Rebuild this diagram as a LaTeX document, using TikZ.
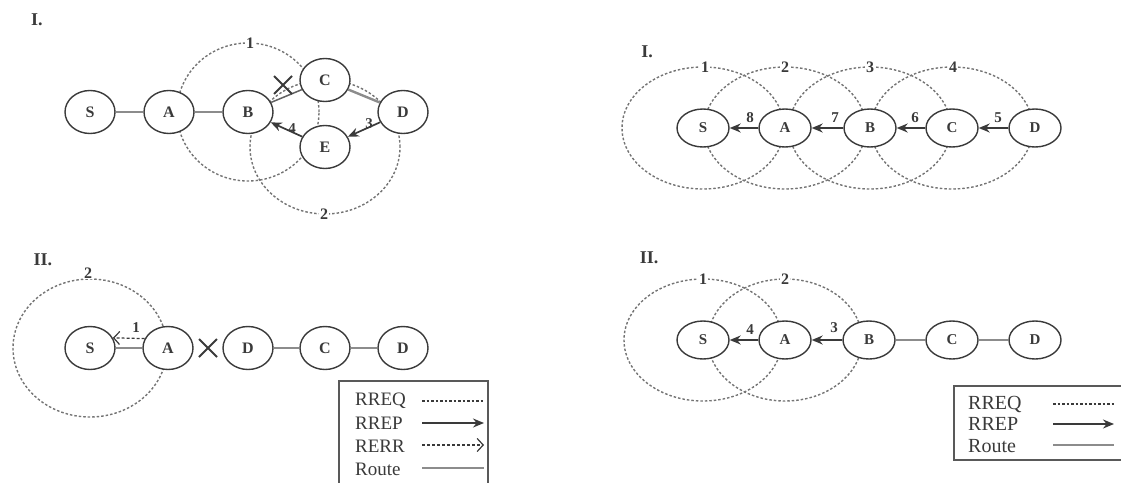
\documentclass[tikz,border=0pt]{standalone}
\usepackage{fontspec}
\setmainfont{Liberation Serif}
\usetikzlibrary{shapes.geometric,arrows.meta,backgrounds}
\definecolor{ink}{HTML}{3A3A3A}
\definecolor{reqgray}{HTML}{747474}
\definecolor{routegray}{HTML}{8C8C8C}
\begin{document}
\begin{tikzpicture}[x=1pt,y=-1pt,
  nodebig/.style={ellipse, draw=ink, line width=1.4pt, fill=white,
    minimum width=50pt, minimum height=43pt, inner sep=0pt, text=ink,
    font=\fontsize{16}{16}\selectfont\bfseries},
  nodesmall/.style={nodebig, minimum width=52pt, minimum height=38pt,
    font=\fontsize{15}{15}\selectfont\bfseries},
  rreq/.style={draw=reqgray, line width=1.4pt, dash pattern=on 2.5pt off 2pt},
  hop/.style={fill=white, inner sep=1pt, text=ink, font=\fontsize{16}{16}\selectfont\bfseries},
  seq/.style={inner sep=0pt, text=ink, font=\fontsize{15}{15}\selectfont\bfseries},
  rrep/.style={draw=ink, line width=1.7pt, -{Stealth[length=11pt,width=9pt]}},
  rerr/.style={draw=ink, line width=1.2pt, dash pattern=on 3pt off 2pt,
    -{Straight Barb[length=6pt,width=13pt,line width=1.2pt]}},
  routethick/.style={draw=routegray, line width=2.4pt},
  routethin/.style={draw=routegray, line width=1.2pt},
  broken/.style={draw=ink!80, line width=1.5pt},
  cross/.style={draw=ink, line width=1.8pt},
  panel/.style={text=ink, font=\fontsize{18}{18}\selectfont\bfseries, inner sep=0pt},
  legendbox/.style={draw=gray!70!black, line width=2.2pt, fill=white},
  legtext/.style={anchor=west, text=ink, inner sep=0pt}
]
\useasboundingbox (0,0) rectangle (1121,482);

% ---------------- Panel I (left): link B-C breaks, local repair via E
\node[panel] (p1) at (37,20) {I.};
\node[nodebig] (S1) at (90,112) {S};
\node[nodebig] (A1) at (169,112) {A};
\node[nodebig] (B1) at (248,112) {B};
\node[nodebig] (C1) at (325,80) {C};
\node[nodebig] (D1) at (403,112) {D};
\node[nodebig] (E1) at (325,147) {E};
\begin{scope}[on background layer]
  \draw[rreq] (B1.center) ellipse [x radius=71pt, y radius=69pt];
  \draw[rreq] (E1.center) ellipse [x radius=75pt, y radius=67pt];
\end{scope}
\node[hop] (r11) at (250,43) {1};
\node[hop] (r12) at (324,214) {2};
\draw[routethick] (S1) -- (A1);
\draw[routethick] (A1) -- (B1);
\draw[routethick] (C1) -- (D1);
\draw[broken] (B1) -- (C1);
\coordinate (x1) at (283,85);
\draw[cross] ([shift={(-9pt,9pt)}]x1) -- ([shift={(9pt,-9pt)}]x1)
             ([shift={(-9pt,-9pt)}]x1) -- ([shift={(9pt,9pt)}]x1);
\draw[rrep] (D1) -- (E1);
\draw[rrep] (E1) -- (B1);
\node[seq] (q13) at (369,124) {3};
\node[seq] (q14) at (292,129) {4};

% ---------------- Panel I (right): RREQ flood and RREP back to S
\node[panel] (p2) at (647,52) {I.};
\node[nodesmall] (S2) at (703,128) {S};
\node[nodesmall] (A2) at (785,128) {A};
\node[nodesmall] (B2) at (870,128) {B};
\node[nodesmall] (C2) at (952,128) {C};
\node[nodesmall] (D2) at (1035,128) {D};
\begin{scope}[on background layer]
  \foreach \n in {S2,A2,B2,C2}
    \draw[rreq] (\n.center) ellipse [x radius=81pt, y radius=61pt];
\end{scope}
\node[hop] (r21) at (705,67) {1};
\node[hop] (r22) at (785,67) {2};
\node[hop] (r23) at (870,67) {3};
\node[hop] (r24) at (953,67) {4};
\draw[rrep] (D2) -- (C2);
\draw[rrep] (C2) -- (B2);
\draw[rrep] (B2) -- (A2);
\draw[rrep] (A2) -- (S2);
\node[seq] (q25) at (998,118) {5};
\node[seq] (q26) at (915,118) {6};
\node[seq] (q27) at (835,118) {7};
\node[seq] (q28) at (750,118) {8};

% ---------------- Panel II (left): link A-B breaks, RERR to S
\node[panel] (p3) at (43,260) {II.};
\node[nodebig] (S3) at (90,348) {S};
\node[nodebig] (A3) at (168,348) {A};
\node[nodebig] (B3) at (248,348) {D};
\node[nodebig] (C3) at (325,348) {C};
\node[nodebig] (D3) at (403,348) {D};
\begin{scope}[on background layer]
  \draw[rreq] (S3.center) ellipse [x radius=77pt, y radius=69pt];
\end{scope}
\node[hop] (r32) at (88,273) {2};
\draw[routethin] (S3) -- (A3);
\draw[routethin] (B3) -- (C3);
\draw[routethin] (C3) -- (D3);
\coordinate (x3) at (208,348);
\draw[cross] ([shift={(-9pt,9pt)}]x3) -- ([shift={(9pt,-9pt)}]x3)
             ([shift={(-9pt,-9pt)}]x3) -- ([shift={(9pt,9pt)}]x3);
\draw[rerr] (A3.158) -- (S3.24);
\node[seq] (q31) at (136,328) {1};

% legend for panel II (left)
\node[legendbox, minimum width=149pt, minimum height=112pt, anchor=north west, inner sep=0pt] (L1) at (338,380) {};
\begin{scope}[font=\fontsize{19}{19}\selectfont]
  \node[legtext] (L1a) at (355,401) {RREQ};
  \node[legtext] (L1b) at (355,423) {RREP};
  \node[legtext] (L1c) at (355,446) {RERR};
  \node[legtext] (L1d) at (355,469) {Route};
\end{scope}
\coordinate (L1a0) at (422,401); \coordinate (L1a1) at (484,401);
\coordinate (L1b0) at (422,423); \coordinate (L1b1) at (484,423);
\coordinate (L1c0) at (422,445); \coordinate (L1c1) at (484,445);
\coordinate (L1d0) at (422,468); \coordinate (L1d1) at (484,468);
\draw[rreq, draw=ink] (L1a0) -- (L1a1);
\draw[rrep] (L1b0) -- (L1b1);
\draw[rerr] (L1c0) -- (L1c1);
\draw[routethin] (L1d0) -- (L1d1);

% ---------------- Panel II (right): local route discovery from S
\node[panel] (p4) at (649,258) {II.};
\node[nodesmall] (S4) at (703,340) {S};
\node[nodesmall] (A4) at (785,340) {A};
\node[nodesmall] (B4) at (869,340) {B};
\node[nodesmall] (C4) at (952,340) {C};
\node[nodesmall] (D4) at (1035,340) {D};
\begin{scope}[on background layer]
  \draw[rreq] (S4.center) ellipse [x radius=79pt, y radius=61pt];
  \draw[rreq] (A4.center) ellipse [x radius=77pt, y radius=61pt];
\end{scope}
\node[hop] (r41) at (703,279) {1};
\node[hop] (r42) at (785,279) {2};
\draw[rrep] (B4) -- (A4);
\draw[rrep] (A4) -- (S4);
\draw[routethin] (B4) -- (C4);
\draw[routethin] (C4) -- (D4);
\node[seq] (q43) at (834,328) {3};
\node[seq] (q44) at (750,330) {4};

% legend for panel II (right)
\node[legendbox, minimum width=175pt, minimum height=74pt, anchor=north west, inner sep=0pt] (L2) at (953,385) {};
\begin{scope}[font=\fontsize{20}{20}\selectfont]
  \node[legtext] (L2a) at (968,404) {RREQ};
  \node[legtext] (L2b) at (968,424) {RREP};
  \node[legtext] (L2c) at (968,446) {Route};
\end{scope}
\coordinate (L2a0) at (1053,404); \coordinate (L2a1) at (1114,404);
\coordinate (L2b0) at (1053,424); \coordinate (L2b1) at (1114,424);
\coordinate (L2c0) at (1053,445); \coordinate (L2c1) at (1114,445);
\draw[rreq, draw=ink] (L2a0) -- (L2a1);
\draw[rrep] (L2b0) -- (L2b1);
\draw[routethin] (L2c0) -- (L2c1);
\end{tikzpicture}
\end{document}
